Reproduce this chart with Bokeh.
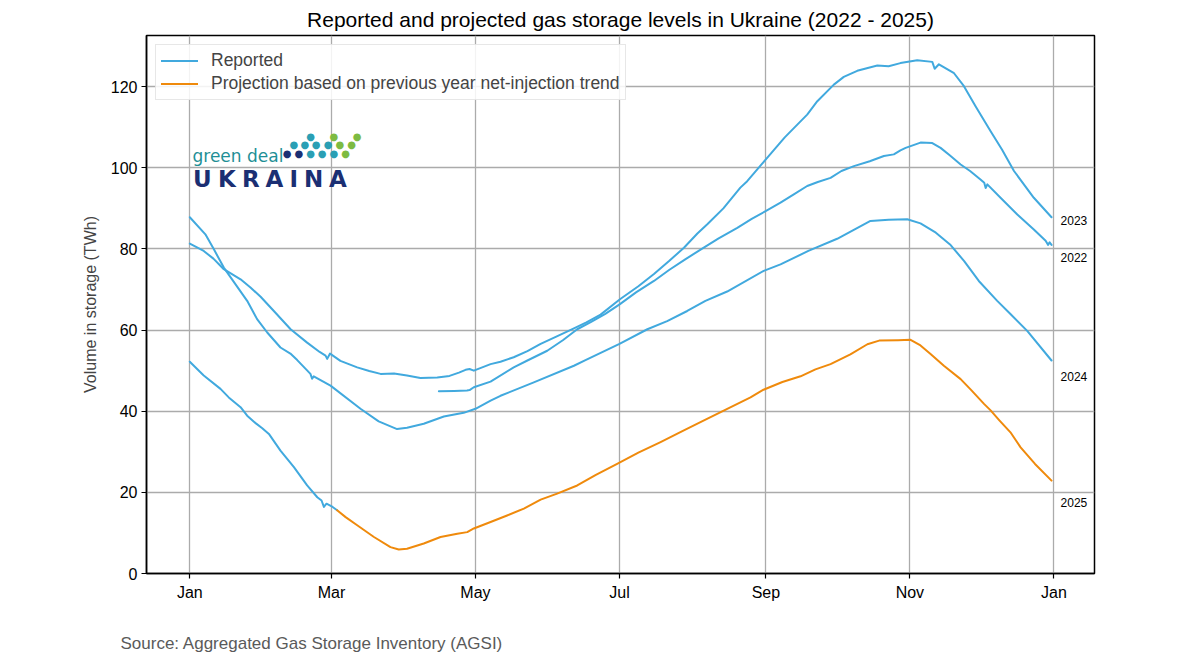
from bokeh.plotting import figure
from bokeh.layouts import column
from bokeh.models import (Range1d, FixedTicker, Legend, LegendItem, Label,
                          ColumnDataSource)
from bokeh.embed import file_html
from bokeh.resources import INLINE

FONT = "Liberation Sans"
BLUE = "#41a9de"
ORANGE = "#ef8a0c"

# x axis: day of year (leap-year calendar, Jan 1 = 0)
month_ticks = [0, 60, 121, 182, 244, 305, 366]
month_labels = ["Jan", "Mar", "May", "Jul", "Sep", "Nov", "Jan"]
volume_ticks = [0, 20, 40, 60, 80, 100, 120]

# Reported storage, TWh
days_2022 = [105.5, 112, 117.4, 118.5, 120.3, 127.4, 137.2, 143, 148.6, 151.4, 158, 164.1,
             170, 176, 182.2, 189, 196.6, 203, 210, 217.7, 224, 231.9, 238, 243.9, 250.2,
             256, 261.5, 266, 271.4, 276, 281.3, 288, 294, 298.2, 301, 303.2, 309.5, 314.5,
             318, 322, 326.5, 330.5, 334.9, 336.5, 337.1, 337.8, 343.4, 350.5, 357.5,
             362.5, 363.5, 364.2, 365]
vol_2022 = [44.9, 45.0, 45.1, 45.2, 45.9, 47.3, 50.8, 52.5, 54.1, 54.9, 57.5, 60.2,
            62.0, 64.0, 66.4, 69.3, 72.1, 74.8, 77.5, 80.3, 82.6, 85.2, 87.4, 89.3, 91.4,
            93.5, 95.5, 96.5, 97.5, 99.2, 100.4, 101.6, 102.9, 103.3, 104.3, 104.9, 106.2,
            106.1, 104.9, 103.0, 100.8, 99.2, 97.1, 96.3, 95.0, 95.9, 92.6, 88.5, 84.8,
            82.0, 81.0, 81.6, 81.0]

days_2023 = [0, 5.9, 10, 14.4, 21.5, 25.7, 30, 35.6, 42.7, 49.7, 55, 57.5, 58.2, 59.4,
             63.8, 70.9, 76, 80.8, 86.5, 92, 97.7, 104.8, 110, 114, 116.8, 118.5, 120.3,
             127.4, 131.6, 137.2, 143, 148.6, 155, 162.7, 168, 174, 182.2, 190, 196.6, 203,
             209.3, 215, 219.2, 226, 233.2, 236.1, 243.9, 252, 261.5, 265.8, 272.8, 277,
             282.7, 291.2, 296, 301, 308.1, 314.5, 315.5, 317.3, 323.7, 327.9, 333, 339.2,
             344, 349.1, 357.5, 365]
vol_2023 = [81.3, 79.5, 77.6, 75.0, 72.5, 70.5, 68.2, 64.7, 60.2, 56.9, 54.6, 53.7, 52.9,
            54.2, 52.4, 50.8, 49.9, 49.2, 49.3, 48.8, 48.2, 48.3, 48.7, 49.5, 50.2, 50.4,
            50.0, 51.6, 52.2, 53.3, 54.8, 56.6, 58.3, 60.4, 61.9, 63.8, 67.6, 70.8, 73.8,
            77.0, 80.3, 83.8, 86.1, 90.0, 95.1, 96.7, 102.0, 107.5, 113.1, 116.4, 120.5,
            122.4, 123.9, 125.2, 125.0, 125.8, 126.5, 126.1, 124.4, 125.5, 123.3, 120.1,
            115.0, 109.0, 104.5, 99.2, 92.6, 87.8]

days_2024 = [0, 6.6, 10.2, 14.4, 24.3, 28.5, 32.8, 38.4, 42.6, 45.5, 51.1, 51.8, 52.5,
             59.6, 72.3, 80, 87.8, 92, 99.1, 107.6, 116, 121, 127.4, 131.6, 145.7, 162.7,
             167.6, 182, 193.8, 202.2, 210.7, 218.4, 227.6, 243.1, 250.2, 262, 274.2, 288.3,
             296, 303.9, 309.5, 316, 322, 328, 334.2, 342, 347.7, 354.7, 365]
vol_2024 = [87.8, 83.6, 79.9, 75.4, 67.2, 62.7, 59.4, 55.7, 54.2, 52.6, 49.2, 48.0, 48.6,
            46.3, 40.6, 37.5, 35.6, 35.9, 36.9, 38.7, 39.6, 40.6, 42.6, 43.8, 47.1, 51.2,
            52.6, 56.6, 60.2, 62.2, 64.7, 67.2, 69.5, 74.6, 76.2, 79.5, 82.5, 86.9, 87.2,
            87.3, 86.3, 84.0, 81.1, 77.0, 72.1, 67.2, 63.9, 59.8, 52.5]

days_2025 = [0, 5.9, 13, 16.5, 21.5, 24.3, 28, 30.7, 33.5, 38.4, 44.1, 49.7, 54, 55.8,
             56.8, 57.9, 60.5, 62.4]
vol_2025 = [52.2, 48.8, 45.5, 43.4, 41.0, 38.9, 37.0, 35.8, 34.4, 30.3, 26.2, 21.7, 18.8,
            18.0, 16.4, 17.2, 16.4, 15.6]

# Projection for the rest of 2025, TWh
days_proj = [62.4, 66, 70.9, 78, 85, 88.5, 92, 99.1, 106.2, 113.3, 117.5, 120.3, 127.4,
             134.4, 141.5, 148.6, 155.6, 164.1, 172, 181, 190, 199.4, 208, 216.3, 227,
             237.5, 243, 251, 258.7, 265, 271.4, 279.8, 287, 292, 300, 305.3, 309.5, 314,
             319.4, 326.5, 331, 336.4, 339.2, 343, 347.6, 351.9, 358, 365]
vol_proj = [15.6, 13.9, 11.9, 9.0, 6.5, 5.9, 6.1, 7.4, 9.0, 9.8, 10.2, 11.1, 12.7, 14.3,
            16.0, 18.2, 19.7, 21.7, 24.3, 27.0, 29.8, 32.4, 34.9, 37.3, 40.4, 43.4, 45.3,
            47.2, 48.6, 50.3, 51.6, 54.0, 56.5, 57.4, 57.5, 57.6, 56.2, 54.0, 51.2, 47.9,
            45.2, 41.8, 40.2, 37.7, 34.8, 31.1, 27.0, 22.9]

year_names = ["2022", "2023", "2024", "2025"]
year_label_dy = [13, 3, 16, 22]   # pixels below each line's end point

W = 1180
CHART_H, NOTE_H = 604, 60
FRAME_L, FRAME_B = 146, 573

p = figure(width=W, height=CHART_H, output_backend="svg", toolbar_location=None,
           x_range=Range1d(-18.34, 383.2), y_range=Range1d(0, 132.6),
           min_border_left=FRAME_L, min_border_right=W - 1094,
           min_border_top=34, min_border_bottom=CHART_H - FRAME_B,
           background_fill_color="white", border_fill_color="white")
p.frame_align = False

p.title.text = "Reported and projected gas storage levels in Ukraine (2022 - 2025)"
p.title.align = "center"
p.title.text_font = FONT
p.title.text_font_size = "21px"
p.title.text_font_style = "normal"
p.title.text_color = "black"
p.title.standoff = 10

p.outline_line_color = "black"
p.outline_line_width = 1.5
p.outline_line_alpha = 1

for ax in (p.xaxis[0], p.yaxis[0]):
    ax.axis_line_color = "black"
    ax.axis_line_width = 1.5
    ax.major_tick_line_color = "black"
    ax.major_tick_line_width = 1.2
    ax.major_tick_in = 0
    ax.major_tick_out = 5
    ax.minor_tick_line_color = None
    ax.major_label_text_font = FONT
    ax.major_label_text_font_size = "16px"
    ax.major_label_text_color = "black"

p.xaxis.ticker = FixedTicker(ticks=month_ticks)
p.xaxis.major_label_overrides = {t: lab for t, lab in zip(month_ticks, month_labels)}
p.xaxis.major_label_standoff = 5
p.yaxis.ticker = FixedTicker(ticks=volume_ticks)
p.yaxis.major_label_standoff = 4
p.yaxis.axis_label = "Volume in storage (TWh)"
p.yaxis.axis_label_text_font = FONT
p.yaxis.axis_label_text_font_size = "16px"
p.yaxis.axis_label_text_font_style = "normal"
p.yaxis.axis_label_standoff = 9

for g in (p.xgrid[0], p.ygrid[0]):
    g.grid_line_color = "#ababab"
    g.grid_line_width = 1.3

line_kw = dict(line_width=2, line_join="round", line_cap="round")
r22 = p.line(days_2022, vol_2022, color=BLUE, **line_kw)
r23 = p.line(days_2023, vol_2023, color=BLUE, **line_kw)
r24 = p.line(days_2024, vol_2024, color=BLUE, **line_kw)
r25 = p.line(days_2025, vol_2025, color=BLUE, **line_kw)
rpj = p.line(days_proj, vol_proj, color=ORANGE, **line_kw)

# year tags beside the line ends
ends = ColumnDataSource(dict(
    x=[days_2022[-1], days_2023[-1], days_2024[-1], days_proj[-1]],
    y=[vol_2022[-1], vol_2023[-1], vol_2024[-1], vol_proj[-1]],
    text=year_names, dy=year_label_dy))
p.text(x="x", y="y", text="text", y_offset="dy", x_offset=9, source=ends,
       text_font={"value": FONT}, text_font_size="12px", text_color="black",
       text_baseline="middle", text_align="left")

legend = Legend(items=[
    LegendItem(label="Reported", renderers=[r23]),
    LegendItem(label="Projection based on previous year net-injection trend", renderers=[rpj]),
], location="top_left")
legend.margin = 9
legend.padding = 5
legend.spacing = 2
legend.label_standoff = 13
legend.glyph_width = 37
legend.glyph_height = 21
legend.label_height = 21
legend.label_text_font = FONT
legend.label_text_font_size = "17.5px"
legend.border_line_color = "#cfcfcf"
legend.border_line_width = 1
legend.background_fill_color = "white"
legend.background_fill_alpha = 0.85
p.add_layout(legend)


def page_text(px, py, text, **kw):
    """Text placed by page pixel position (px, py) inside the chart frame."""
    p.add_layout(Label(x=px - FRAME_L, y=FRAME_B - py, x_units="screen", y_units="screen",
                       text=text, **kw))


# "green deal UKRAINA" logo
page_text(192, 155, "green deal", text_font="DejaVu Sans", text_font_size="17px",
          text_color="#1f8f96", text_baseline="alphabetic", text_align="left")
for ch, lx in zip("UKRAINA", [192.5, 217.5, 241.5, 265, 289, 303.5, 328.5]):
    page_text(lx, 178.5, ch, text_font="DejaVu Sans", text_font_size="23px",
              text_font_style="bold", text_color="#1b2f73",
              text_baseline="alphabetic", text_align="left")

NAVY, TEAL, GREEN = "#1b2f73", "#2a9fb4", "#7dbb42"
logo_dots = [
    (310, 136, TEAL), (333.3, 136, GREEN), (356.7, 136, GREEN),
    (293.3, 144.3, TEAL), (304.3, 144.3, TEAL), (315.7, 144.3, TEAL), (327.7, 144.3, TEAL),
    (339.3, 144.3, GREEN), (351, 144.3, GREEN),
    (286.7, 152.7, NAVY), (298.3, 152.7, NAVY), (310, 152.7, TEAL), (321.7, 152.7, TEAL),
    (333.3, 152.7, TEAL), (345, 152.7, GREEN),
]
for dx, dy, col in logo_dots:
    page_text(dx, dy, "\u25cf", text_font="DejaVu Sans", text_font_size="10px",
              text_color=col, text_baseline="middle", text_align="center")

# source note strip under the chart
note = figure(width=W, height=NOTE_H, output_backend="svg", toolbar_location=None,
              x_range=Range1d(0, W), y_range=Range1d(0, NOTE_H),
              x_axis_type=None, y_axis_type=None, min_border=0,
              background_fill_color="white", border_fill_color="white")
note.frame_align = False
note.outline_line_color = None
note.grid.visible = False
note.add_layout(Label(x=120, y=NOTE_H - (643 - CHART_H), x_units="screen", y_units="screen",
                      text="Source: Aggregated Gas Storage Inventory (AGSI)", text_font=FONT,
                      text_font_size="17px", text_color="#5a5a5a", text_baseline="middle",
                      text_align="left"))

open("out.html", "w").write(file_html(column(p, note, spacing=0), INLINE))
